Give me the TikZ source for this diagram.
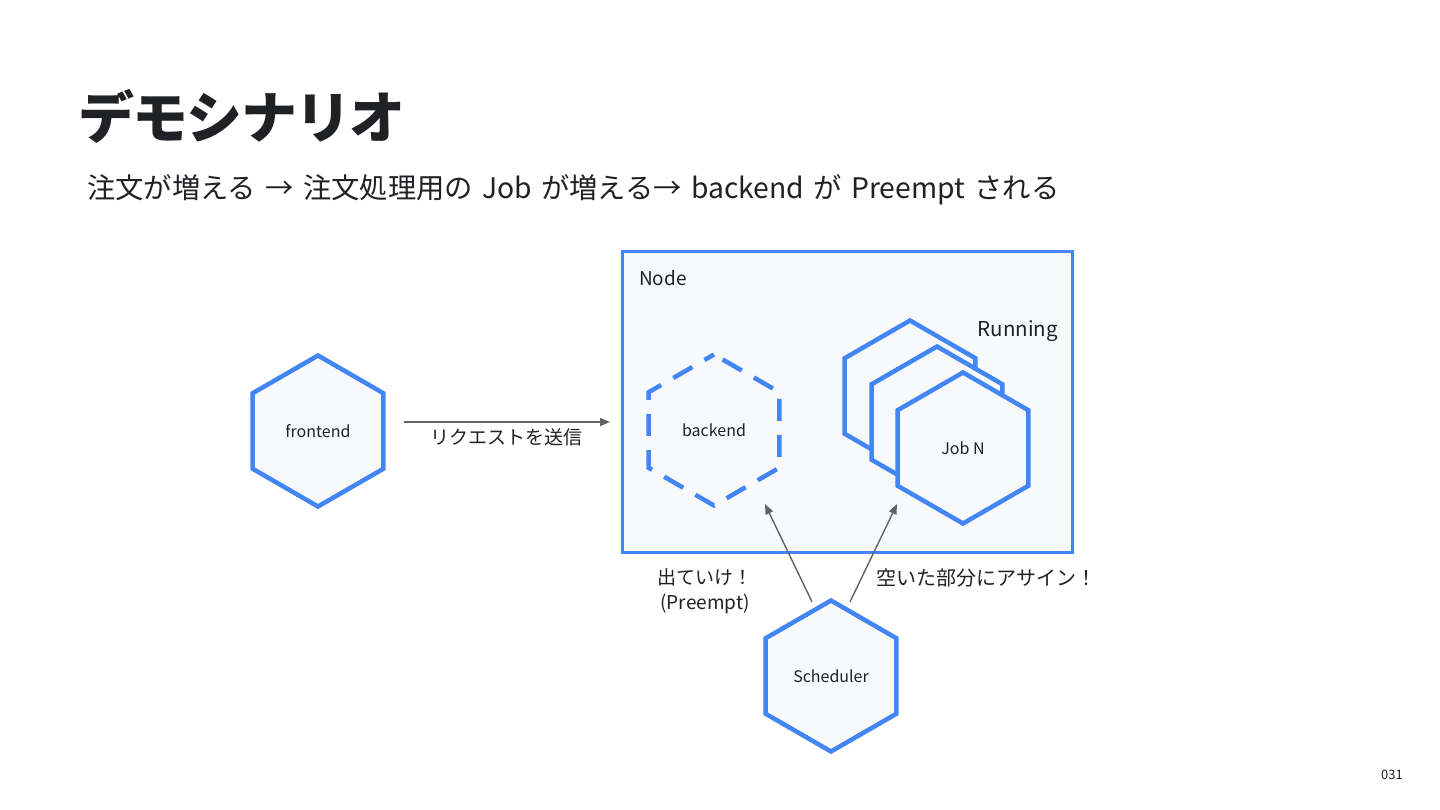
\documentclass[tikz,border=0pt]{standalone}
\usepackage{fontspec}
\setmainfont{Noto Sans CJK JP}
\usetikzlibrary{shapes.geometric,arrows.meta,calc,positioning}
\definecolor{gblue}{HTML}{4285F4}
\definecolor{nodebg}{HTML}{F8F9FA}
\definecolor{ink}{HTML}{202124}
\definecolor{arrowgray}{HTML}{5F6368}

\begin{document}
\begin{tikzpicture}[x=1pt, y=-1pt,
  hex/.style={draw=gblue, line width=4.5pt, regular polygon, regular polygon sides=6,
              shape border rotate=30, minimum size=151pt, inner sep=0pt, fill=nodebg,
              text=ink, font=\fontsize{16}{18}\selectfont},
  box/.style={draw=gblue, line width=3pt, fill=nodebg, inner sep=0pt},
  lbl/.style={text=ink, font=\fontsize{19}{25}\selectfont, inner sep=1pt},
  arr/.style={-{Triangle[length=10pt, width=8pt]}, draw=arrowgray, line width=1.4pt}]
\useasboundingbox[fill=white] (0,0) rectangle (1440,810);
% title
\node[anchor=west, text=ink, inner sep=0pt, font=\fontsize{56}{60}\selectfont\bfseries\addfontfeatures{LetterSpace=-3}] (title) at (78,116) {デモシナリオ};
\node[anchor=west, text=ink, inner sep=0pt, font=\fontsize{28.3}{30}\selectfont] (sub) at (87,190)
  {\spaceskip=0.33em\relax 注文が増える → 注文処理用の Job が増える→ backend が Preempt される};
% node box
\node[box, minimum width=450pt, minimum height=301pt] (nodebox) at (847.5,402) {};
\node[lbl, anchor=west, font=\fontsize{19}{22}\selectfont] (nodelbl) at (638,278) {Node};
\node[lbl, anchor=east, font=\fontsize{20.5}{24}\selectfont] (runlbl) at (1059,331) {Running};
% pods
\node[hex] (frontend) at (318,431) {frontend};
\node[hex, dash pattern=on 22pt off 14pt, dash phase=11pt] (backend) at (714,430) {backend};
\node[hex] (job1) at (910,396) {};
\node[hex] (job2) at (937,422) {};
\node[hex] (jobN) at (963,448) {Job N};
\node[hex] (sched) at (831,676) {Scheduler};
% connectors
\coordinate (reqs) at ($(frontend.east)+(18,-9)$);
\coordinate (reqe) at (reqs -| nodebox.west);
\draw[arr] (reqs) -- ($(reqe)+(-11,0)$) node[lbl, midway, below=5pt] (reqlbl) {リクエストを送信};
\coordinate (evs) at ($(sched.north)+(-19,4)$);
\coordinate (eve) at ($(backend.south)+(51,-4)$);
\draw[arr] (evs) -- (eve);
\coordinate (ass) at ($(sched.north)+(19,4)$);
\coordinate (ase) at ($(jobN.south)+(-66,-22)$);
\draw[arr] (ass) -- (ase);
\node[lbl, align=center] (evlbl) at (705,591) {出ていけ！\\(Preempt)};
\node[lbl, font=\fontsize{20}{25}\selectfont] (aslbl) at (986,578) {空いた部分にアサイン！};
\node[text=ink, font=\fontsize{13}{15}\selectfont] (pageno) at (1392,775) {031};
\end{tikzpicture}
\end{document}
